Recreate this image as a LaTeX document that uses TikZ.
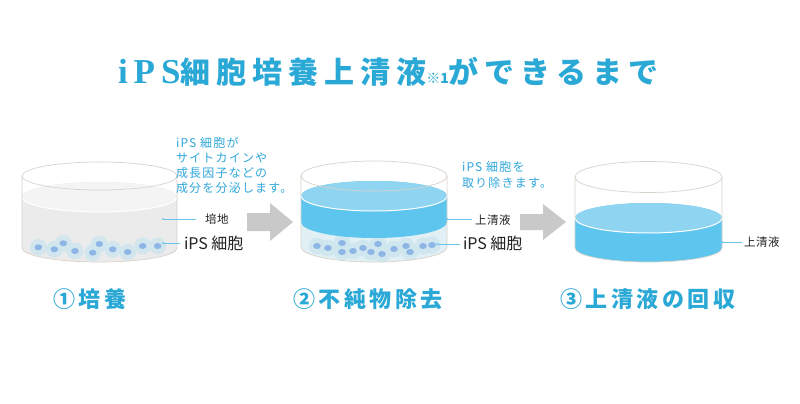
\documentclass[tikz,border=0pt]{standalone}
\usepackage{fontspec}
\setmainfont{Liberation Sans}
\newfontfamily\jp{Noto Sans CJK JP}
\newfontfamily\jptitle{Noto Sans CJK JP}[LetterSpace=20]
\newfontfamily\jpstep{Noto Sans CJK JP}[LetterSpace=16]
\newfontfamily\jpnote{Noto Sans CJK JP}[LetterSpace=10]
\newfontfamily\jplab{Noto Sans CJK JP}[LetterSpace=5]
\newfontfamily\serifbold{Liberation Serif}[LetterSpace=17]
\definecolor{rimc}{HTML}{D9D2CA}
\definecolor{medside}{HTML}{EBEBEB}
\definecolor{medtop}{HTML}{F4F4F4}
\definecolor{haloc}{HTML}{CFE6EF}
\definecolor{dotc}{HTML}{8DB5E5}
\definecolor{supside}{HTML}{5EC5EE}
\definecolor{suptop}{HTML}{8FD4F1}
\definecolor{lowc}{HTML}{E1F0F5}
\definecolor{titlec}{HTML}{2AA8D6}
\definecolor{bluetxt}{HTML}{2FA7DC}
\definecolor{leaderc}{HTML}{6CC3EA}
\definecolor{arrowc}{HTML}{C9C9C9}
\definecolor{labc}{HTML}{222222}
\tikzset{
  rim/.style={draw=rimc, line width=0.7pt},
  halo/.style={fill=haloc, fill opacity=0.85},
  cell/.style={fill=dotc},
  leader/.style={draw=leaderc, line width=0.6pt},
  leaddot/.style={fill=leaderc},
  blocky/.style={fill=arrowc},
  txt/.style={inner sep=0pt, outer sep=0pt},
  steplabel/.style={txt, text=titlec, font=\jpstep\bfseries\fontsize{22}{26}\selectfont, anchor=base west},
  note/.style={txt, text=bluetxt, align=left, anchor=north west},
  smalllab/.style={txt, text=labc, font=\jplab\fontsize{11.5}{13}\selectfont, anchor=west},
  bigLab/.style={txt, text=labc, font=\jp\fontsize{16}{18}\selectfont, anchor=west}
}
\begin{document}
\begin{tikzpicture}[x=1pt, y=-1pt]
\useasboundingbox (0,0) rectangle (800,404);
\fill[white] (0,0) rectangle (800,404);

% ---------- title ----------
\node[txt, anchor=base west, text=titlec] (title) at (118,84)
  {{\serifbold\bfseries\fontsize{35}{38}\selectfont iPS}{\jptitle\bfseries\fontsize{30}{34}\selectfont 細胞培養上清液}{\jp\bfseries\fontsize{14}{16}\selectfont ※1}{\jptitle\bfseries\fontsize{30}{34}\selectfont ができるまで}};

% ---------- dish 1 ----------
\fill[medside] (22,197) -- (22,248) arc[start angle=180,end angle=360,x radius=77.5pt,y radius=14pt] -- (177,197) arc[start angle=0,end angle=180,x radius=77.5pt,y radius=15pt] -- cycle;
\fill[medtop] (99.5,197) ellipse[x radius=77.5pt,y radius=15pt];
\draw[white, line width=1pt] (22,197) arc[start angle=180,end angle=360,x radius=77.5pt,y radius=15pt];
\foreach \p in {(38.3,247.3),(54.3,249.3),(63.3,243.3),(75,251),(92.7,252.7),(99.3,244),(112.7,249.3),(127.7,252),(142.7,246),(157.7,246)}
  \fill[halo] \p circle[radius=8.5pt];
\foreach \p in {(38.3,247.3),(54.3,249.3),(63.3,243.3),(75,251),(92.7,252.7),(99.3,244),(112.7,249.3),(127.7,252),(142.7,246),(157.7,246)}
  \fill[cell] \p ellipse[x radius=3.8pt,y radius=3pt];
\draw[rim] (99.5,176) ellipse[x radius=77.5pt,y radius=14pt];
\draw[rim] (22,176) -- (22,248) arc[start angle=180,end angle=360,x radius=77.5pt,y radius=14pt] -- (177,176);

% ---------- arrow 1 ----------
\fill[blocky] (247,213) -- (270,213) -- (270,203) -- (293,222) -- (270,241) -- (270,231) -- (247,231) -- cycle;

% ---------- dish 2 ----------
\fill[lowc] (301,222) -- (301,247) arc[start angle=180,end angle=360,x radius=73pt,y radius=15pt] -- (447,222) arc[start angle=0,end angle=180,x radius=73pt,y radius=16pt] -- cycle;
\foreach \p in {(317,246),(328,248),(342,243),(342,252),(353,251),(363,248),(371,252),(378,244),(382,254),(394,249),(406,246),(410,252),(423,246),(432,245)}
  \fill[halo] \p circle[radius=8.5pt];
\foreach \p in {(317,246),(328,248),(342,243),(342,252),(353,251),(363,248),(371,252),(378,244),(382,254),(394,249),(406,246),(410,252),(423,246),(432,245)}
  \fill[cell] \p ellipse[x radius=3.8pt,y radius=3pt];
\fill[supside] (301,196) -- (301,222) arc[start angle=180,end angle=360,x radius=73pt,y radius=16pt] -- (447,196) arc[start angle=0,end angle=180,x radius=73pt,y radius=15pt] -- cycle;
\fill[suptop] (374,196) ellipse[x radius=73pt,y radius=15pt];
\draw[white, line width=1pt] (301,196) arc[start angle=180,end angle=360,x radius=73pt,y radius=15pt];
\draw[rim] (374,176) ellipse[x radius=73pt,y radius=15pt];
\draw[rim] (301,176) -- (301,247) arc[start angle=180,end angle=360,x radius=73pt,y radius=15pt] -- (447,176);

% ---------- arrow 2 ----------
\fill[blocky] (520,214) -- (543,214) -- (543,204) -- (566,222) -- (543,240) -- (543,230) -- (520,230) -- cycle;

% ---------- dish 3 ----------
\fill[supside] (575,218) -- (575,248) arc[start angle=180,end angle=360,x radius=73.5pt,y radius=14pt] -- (722,218) arc[start angle=0,end angle=180,x radius=73.5pt,y radius=15pt] -- cycle;
\fill[suptop] (648.5,218) ellipse[x radius=73.5pt,y radius=15pt];
\draw[white, line width=1pt] (575,218) arc[start angle=180,end angle=360,x radius=73.5pt,y radius=15pt];
\draw[rim] (648.5,177) ellipse[x radius=73.5pt,y radius=15.5pt];
\draw[rim] (575,177) -- (575,248) arc[start angle=180,end angle=360,x radius=73.5pt,y radius=14pt] -- (722,177);

% ---------- notes ----------
\node[note, font=\jpnote\fontsize{12}{15}\selectfont] (note1) at (176,137.5)
  {iPS 細胞が\\サイトカインや\\成長因子などの\\成分を分泌します。};
\node[note, font=\jpnote\fontsize{12}{16}\selectfont] (note2) at (462,161.5)
  {iPS 細胞を\\取り除きます。};

% ---------- labels and leaders ----------
\node[smalllab] (medium) at (205,219) {培地};
\node[bigLab] (cells1) at (184,243) {iPS 細胞};
\node[smalllab] (sup2) at (475,220) {上清液};
\node[bigLab] (cells2) at (463,243) {iPS 細胞};
\node[smalllab] (sup3) at (744,242) {上清液};
\coordinate (m1) at (163,219);
\coordinate (c1) at (163,243);
\coordinate (s2) at (447,219);
\coordinate (c2) at (437,244);
\coordinate (s3) at (722,242);
\draw[leader, shorten >=9pt] (m1) -- (medium.west |- m1);
\draw[leader, shorten >=4pt] (c1) -- (cells1.west |- c1);
\draw[leader, shorten >=3pt] (s2) -- (sup2.west |- s2);
\draw[leader, shorten >=3pt] (c2) -- (cells2.west |- c2);
\draw[leader, shorten >=2pt] (s3) -- (sup3.west |- s3);
\foreach \c in {m1,c1,s2,c2,s3} \fill[leaddot] (\c) circle[radius=1pt];

% ---------- step labels ----------
\node[steplabel] (step1) at (53,307) {①培養};
\node[steplabel] (step2) at (293,307) {②不純物除去};
\node[steplabel] (step3) at (560,307) {③上清液の回収};
\end{tikzpicture}
\end{document}
